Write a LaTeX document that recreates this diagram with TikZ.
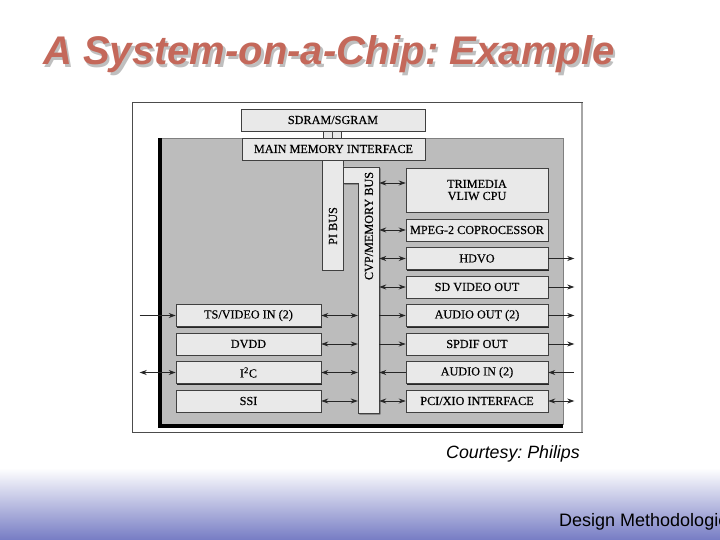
\documentclass[tikz,border=0pt]{standalone}
\usepackage{fontspec}
\setmainfont{Liberation Serif}
\newfontfamily\arialfont{Liberation Sans}
\newfontfamily\bxserif[FakeBold=0.4]{Liberation Serif}
\usetikzlibrary{arrows.meta,shadows,calc}
\definecolor{chipgray}{RGB}{188,188,188}
\definecolor{boxfill}{RGB}{233,233,233}
\definecolor{titlered}{RGB}{196,104,90}
\definecolor{bandblue}{RGB}{118,124,196}
\newcommand\bxfont{\bxserif\fontsize{12.2}{12}\selectfont}
\frenchspacing
\begin{document}
\begin{tikzpicture}[x=1pt,y=-1pt,
  >={Stealth[length=7pt,width=5pt]},
  box/.style={draw=black!75, line width=0.6pt, fill=boxfill, inner sep=0pt,
    minimum height=22pt, font=\bxfont, align=center,
    drop shadow={shadow xshift=1.3pt, shadow yshift=-1.3pt, fill=black!85, opacity=1}},
  rbox/.style={box, minimum width=142pt},
  lbox/.style={box, minimum width=145pt},
  conn/.style={draw=black!85, line width=0.8pt},
  titlefont/.style={font=\arialfont\bfseries\itshape\fontsize{40}{40}\selectfont}]
\useasboundingbox (0,0) rectangle (720,540);
\fill[white] (0,0) rectangle (720,540);
\shade[top color=white, bottom color=bandblue] (0,468) rectangle (720,540);

% title
\node[titlefont, anchor=base west, inner sep=0, text=black!25] (titleshadow) at (45.5,67.5) {A System-on-a-Chip: Example};
\node[titlefont, anchor=base west, inner sep=0, text=titlered] (title) at (43,65) {A System-on-a-Chip: Example};

% frame
\draw[black!70, line width=0.6pt] (132,102) rectangle (582,432);
\draw[black!35, line width=1.6pt] (582,103) -- (582,432);

% chip body
\fill[chipgray] (161,138) rectangle (563,425);
\draw[black!50, line width=0.5pt] (161,138) -- (563,138) -- (563,425);
\fill[black] (158,138) rectangle (162,428);
\fill[black] (158,424) rectangle (563,428);

% memory
\node[box, minimum width=184pt] (sdram) at (333,120) {SDRAM/SGRAM};
\node[box, minimum width=18pt, minimum height=7pt, drop shadow={opacity=0}] (link) at (332,134.5) {};
\draw[black!70, line width=0.5pt] (link.north) -- (link.south);
\node[box, minimum width=183pt] (mmi) at (333.5,149) {MAIN MEMORY INTERFACE};

% PI bus
\node[box, minimum width=21pt, minimum height=110pt] (pibus) at (332.5,215) {};
\node[rotate=90, font=\bxfont, inner sep=0] (pilbl) at (333,226) {PI BUS};

% CVP/Memory bus (L-shape)
\fill[black!85] (344.3,168.3) -- (380.3,168.3) -- (380.3,414.3) -- (359.3,414.3) -- (359.3,184.3) -- (344.3,184.3) -- cycle;
\filldraw[fill=boxfill, draw=black!75, line width=0.6pt] (343,167) -- (379,167) -- (379,413) -- (358,413) -- (358,183) -- (343,183) -- cycle;
\node[inner sep=0, minimum width=21pt, minimum height=246pt] (cvp) at (368.5,290) {};
\node[rotate=90, font=\bxfont, inner sep=0] (cvplbl) at (369,226) {CVP/MEMORY BUS};

% right column
\node[rbox, minimum height=44pt] (trim) at (477,190) {TRIMEDIA\\VLIW CPU};
\node[rbox] (mpeg) at (477,230) {MPEG-2 COPROCESSOR};
\node[rbox] (hdvo) at (477,258.5) {HDVO};
\node[rbox] (sdv) at (477,287) {SD VIDEO OUT};
\node[rbox] (aout) at (477,315.5) {AUDIO OUT (2)};
\node[rbox] (spdif) at (477,344) {SPDIF OUT};
\node[rbox] (ain) at (477,372.5) {AUDIO IN (2)};
\node[rbox] (pci) at (477,401) {PCI/XIO INTERFACE};

% left column
\node[lbox] (tsv) at (248.5,315.5) {TS/VIDEO IN (2)};
\node[lbox] (dvdd) at (248.5,344) {DVDD};
\node[lbox] (iic) at (248.5,372.5) {I\textsuperscript{2}C};
\node[lbox] (ssi) at (248.5,401) {SSI};

% bus <-> right boxes
\coordinate (trimin) at ($(trim.west)+(0,-7)$);
\draw[conn,<->] (cvp.east |- trimin) -- (trimin);
\draw[conn,<->] (cvp.east |- mpeg.west) -- (mpeg.west);
\draw[conn,<->] (cvp.east |- hdvo.west) -- (hdvo.west);
\draw[conn,<->] (cvp.east |- sdv.west) -- (sdv.west);
\draw[conn,->] (cvp.east |- aout.west) -- (aout.west);
\draw[conn,->] (cvp.east |- spdif.west) -- (spdif.west);
\draw[conn,->] (ain.west) -- (cvp.east |- ain.west);
\draw[conn,<->] (cvp.east |- pci.west) -- (pci.west);

% left boxes <-> bus
\draw[conn,<->] (tsv.east) -- (tsv.east -| cvp.west);
\draw[conn,<->] (dvdd.east) -- (dvdd.east -| cvp.west);
\draw[conn,<->] (iic.east) -- (iic.east -| cvp.west);
\draw[conn,<->] (ssi.east) -- (ssi.east -| cvp.west);

% external right
\draw[conn,->] (hdvo.east) -- ++(26,0);
\draw[conn,->] (sdv.east) -- ++(26,0);
\draw[conn,->] (aout.east) -- ++(26,0);
\draw[conn,->] (spdif.east) -- ++(26,0);
\draw[conn,<-] (ain.east) -- ++(26,0);
\draw[conn,<->] (pci.east) -- ++(26,0);

% external left
\draw[conn,->] ($(tsv.west)+(-36,0)$) -- (tsv.west);
\draw[conn,<->] ($(iic.west)+(-36,0)$) -- (iic.west);

% captions
\node[anchor=base west, inner sep=0, font=\arialfont\itshape\fontsize{17.8}{17.8}\selectfont] (court) at (446,458) {Courtesy: Philips};
\node[anchor=base west, inner sep=0, font=\arialfont\fontsize{18}{18}\selectfont] (dm) at (559,526) {Design Methodologies};
\end{tikzpicture}
\end{document}
